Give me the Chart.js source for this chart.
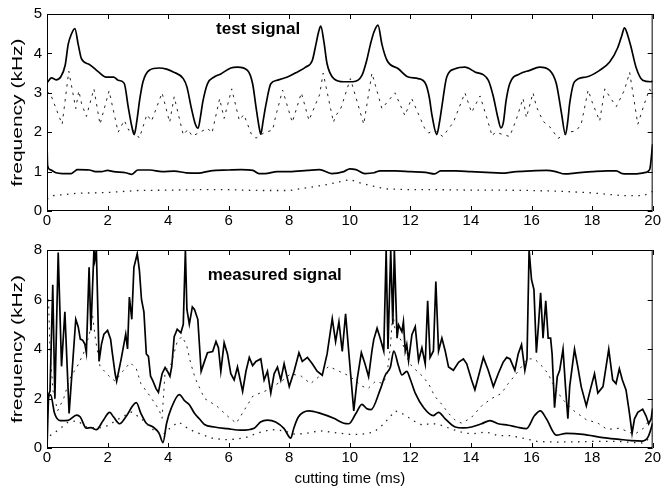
<!DOCTYPE html>
<html>
<head>
<meta charset="utf-8">
<script src="https://cdn.jsdelivr.net/npm/chart.js@4.4.1/dist/chart.umd.min.js"></script>
<style>
  html, body { margin: 0; padding: 0; background: #fff; }
  #wrap { position: relative; width: 662px; height: 493px; }
  canvas { position: absolute; left: 0; }
  #top { top: 0; }
  #bottom { top: 236px; }
</style>
</head>
<body>
<div id="wrap">
  <canvas id="top" width="662" height="236"></canvas>
  <canvas id="bottom" width="662" height="257"></canvas>
</div>
<script>
// tick values
const timeTicks = [0, 2, 4, 6, 8, 10, 12, 14, 16, 18, 20];
const testFreqTicks = [0, 1, 2, 3, 4, 5];
const measFreqTicks = [0, 2, 4, 6, 8];

// test signal, [time ms, frequency kHz]
const testUpper = [[0,3.25],[0.15,3.38],[0.3,3.33],[0.45,3.4],[0.6,3.7],[0.7,4.23],[0.8,4.48],[0.92,4.63],[1.03,4.23],[1.14,3.86],[1.4,3.72],[1.7,3.53],[1.95,3.4],[2.2,3.4],[2.35,3.32],[2.55,3.24],[2.68,2.65],[2.8,2.15],[2.88,1.94],[2.97,2.3],[3.06,2.82],[3.17,3.28],[3.39,3.58],[3.7,3.63],[3.95,3.6],[4.17,3.53],[4.5,3.36],[4.62,3.15],[4.77,2.6],[4.9,2.2],[4.99,2.1],[5.07,2.4],[5.14,2.75],[5.3,3.23],[5.52,3.4],[5.74,3.48],[6.07,3.63],[6.29,3.65],[6.62,3.57],[6.79,3.23],[6.9,2.65],[7.0,2.15],[7.06,1.95],[7.14,2.3],[7.23,2.7],[7.39,3.23],[7.61,3.32],[7.94,3.4],[8.27,3.53],[8.54,3.65],[8.76,3.82],[8.87,4.19],[8.97,4.55],[9.04,4.69],[9.14,4.32],[9.25,3.73],[9.47,3.36],[9.8,3.28],[10.1,3.28],[10.4,3.44],[10.55,3.8],[10.68,4.23],[10.8,4.55],[10.93,4.72],[11.06,4.23],[11.23,3.82],[11.6,3.61],[11.93,3.4],[12.26,3.36],[12.5,3.23],[12.62,2.9],[12.72,2.4],[12.87,1.94],[12.96,2.25],[13.04,2.65],[13.2,3.4],[13.48,3.61],[13.8,3.65],[14.13,3.53],[14.57,3.32],[14.74,2.9],[14.88,2.4],[14.99,2.11],[15.07,2.25],[15.16,2.8],[15.28,3.23],[15.61,3.48],[15.94,3.57],[16.27,3.65],[16.6,3.57],[16.82,3.23],[16.99,2.48],[17.12,1.94],[17.2,2.3],[17.26,2.73],[17.42,3.28],[17.81,3.4],[18.25,3.57],[18.58,3.78],[18.85,4.15],[18.98,4.45],[19.07,4.65],[19.18,4.45],[19.29,4.15],[19.45,3.65],[19.67,3.32],[19.94,3.28],[20,3.3]];
const testUpperDotted = [[0,3.05],[0.15,2.9],[0.5,2.2],[0.72,3.55],[0.95,2.6],[1.05,3.05],[1.15,2.7],[1.3,2.4],[1.55,3.1],[1.75,2.2],[2.05,3.05],[2.35,2.0],[2.55,2.3],[2.7,2.05],[2.8,2.1],[3.05,1.85],[3.3,2.45],[3.45,2.28],[3.8,3.0],[4.05,2.25],[4.2,2.9],[4.5,1.93],[4.65,2.07],[4.8,1.9],[5.05,2.0],[5.3,2.1],[5.45,1.98],[5.7,2.85],[5.85,2.35],[6.1,3.1],[6.35,2.3],[6.5,2.45],[6.75,1.95],[6.9,1.85],[7.2,2.0],[7.45,2.05],[7.55,2.4],[7.78,3.07],[8.1,2.25],[8.4,3.0],[8.65,2.3],[9.0,2.95],[9.12,3.5],[9.46,2.25],[9.52,2.4],[9.7,2.6],[10.02,3.36],[10.46,2.2],[10.73,3.5],[11.06,2.6],[11.49,3.0],[11.82,2.42],[12.04,2.86],[12.47,2.1],[12.6,1.98],[12.8,2.05],[13.07,1.89],[13.42,2.25],[13.8,3.0],[14.02,2.5],[14.3,2.92],[14.55,2.3],[14.7,1.9],[14.8,2.0],[15.28,1.89],[15.5,2.33],[15.72,2.86],[15.83,2.37],[16.05,3.0],[16.16,2.65],[16.38,2.28],[16.65,2.1],[16.87,1.84],[17.0,1.9],[17.2,2.0],[17.47,2.03],[17.64,2.2],[17.87,3.07],[18.0,2.77],[18.25,2.28],[18.42,3.1],[18.58,2.9],[18.8,2.65],[19.07,3.07],[19.24,3.52],[19.51,2.2],[19.73,2.73],[19.9,3.1],[20,2.9]];
const testLower = [[0,1.7],[0.02,1.15],[0.1,1.05],[0.3,0.97],[0.5,0.95],[0.8,0.95],[0.9,1.0],[1.0,1.05],[1.4,1.04],[1.6,1.0],[1.8,1.0],[2.0,1.03],[2.2,1.0],[2.6,0.97],[2.8,0.93],[3.0,1.04],[3.4,1.04],[3.8,1.0],[4.2,1.01],[4.6,0.97],[5.0,0.96],[5.4,1.02],[6.0,1.04],[6.4,1.05],[6.8,1.03],[7.0,0.95],[7.2,0.95],[7.6,1.0],[8.0,1.0],[8.6,1.03],[9.0,1.05],[9.4,0.95],[9.8,1.0],[10.0,1.07],[10.2,1.05],[10.5,0.95],[10.8,0.97],[11.0,1.02],[11.5,1.02],[12.0,1.0],[12.5,0.98],[12.8,0.94],[13.0,1.02],[13.5,1.02],[14.0,1.0],[14.5,0.98],[15.0,0.96],[15.5,1.0],[16.0,1.02],[16.5,1.03],[16.8,1.0],[17.1,0.94],[17.5,0.97],[18.0,1.0],[18.5,1.02],[18.8,1.02],[19.0,0.95],[19.4,0.94],[19.7,0.97],[19.9,1.05],[20,1.7]];
const testLowerDotted = [[0,0.3],[0.2,0.39],[1,0.45],[2,0.47],[3,0.52],[4,0.53],[5,0.54],[6,0.54],[7,0.52],[8,0.52],[9,0.64],[9.3,0.68],[10,0.8],[10.3,0.72],[10.7,0.64],[11.2,0.56],[12,0.54],[13,0.54],[14,0.53],[15,0.53],[16,0.52],[17,0.5],[18,0.46],[19,0.39],[19.7,0.39],[20,0.5]];

// measured signal, [time ms, frequency kHz]
const measUpper = [[0,2.0],[0.1,2.3],[0.19,6.6],[0.26,2.0],[0.37,7.9],[0.48,3.3],[0.59,5.5],[0.73,1.4],[0.95,5.2],[1.03,4.9],[1.1,4.4],[1.18,4.35],[1.25,4.2],[1.3,3.85],[1.39,7.3],[1.45,4.75],[1.55,8.0],[1.58,7.6],[1.63,8.0],[1.72,3.5],[1.8,4.2],[1.88,4.6],[2.0,4.75],[2.1,4.4],[2.15,3.9],[2.25,3.0],[2.3,2.7],[2.45,3.6],[2.6,4.6],[2.66,4.0],[2.72,6.1],[2.8,5.2],[2.87,7.3],[2.98,7.85],[3.05,7.2],[3.12,6.0],[3.2,5.5],[3.28,3.8],[3.35,3.7],[3.42,2.9],[3.5,2.7],[3.6,2.4],[3.68,2.25],[3.8,3.0],[3.9,3.25],[4.0,3.05],[4.06,2.9],[4.12,3.3],[4.2,4.5],[4.3,4.8],[4.42,4.65],[4.5,5.0],[4.57,8.0],[4.62,5.6],[4.7,5.0],[4.8,5.7],[4.87,5.6],[4.98,5.2],[5.09,3.1],[5.2,3.5],[5.3,3.85],[5.47,3.9],[5.58,4.3],[5.66,4.05],[5.74,3.1],[5.85,4.25],[5.96,3.8],[6.07,3.0],[6.18,2.75],[6.29,3.27],[6.46,2.29],[6.57,3.1],[6.68,3.66],[6.79,3.33],[6.9,3.5],[7.06,3.6],[7.17,2.75],[7.28,3.1],[7.39,2.22],[7.5,3.0],[7.61,3.27],[7.72,2.75],[7.83,3.4],[8.0,2.48],[8.16,3.1],[8.32,3.85],[8.43,3.5],[8.6,3.66],[8.76,3.4],[8.92,3.1],[9.09,2.94],[9.25,3.8],[9.42,5.23],[9.53,4.3],[9.64,5.1],[9.75,3.9],[9.86,5.42],[9.97,3.8],[10.13,1.5],[10.24,2.75],[10.38,3.85],[10.5,3.4],[10.62,2.88],[10.73,3.92],[10.79,4.38],[10.9,4.84],[11.0,4.44],[11.12,3.92],[11.2,8.0],[11.26,4.0],[11.35,8.0],[11.42,5.0],[11.47,8.0],[11.56,4.44],[11.61,4.97],[11.72,4.7],[11.77,5.1],[11.83,3.92],[11.88,4.18],[11.94,3.53],[12.05,4.58],[12.16,4.9],[12.27,3.53],[12.38,4.05],[12.49,3.4],[12.57,5.95],[12.65,3.66],[12.76,3.92],[12.84,6.73],[12.93,3.92],[13.04,4.44],[13.15,3.92],[13.26,3.27],[13.42,3.14],[13.59,3.46],[13.75,3.6],[13.86,3.4],[14.02,2.75],[14.13,2.35],[14.3,3.14],[14.41,3.66],[14.57,3.14],[14.74,2.48],[14.9,3.0],[15.06,3.46],[15.18,3.66],[15.29,3.6],[15.45,3.14],[15.56,3.8],[15.67,4.18],[15.78,3.14],[15.85,3.6],[15.92,8.0],[16.0,6.8],[16.08,6.4],[16.16,3.85],[16.23,4.97],[16.3,6.27],[16.38,4.44],[16.47,5.95],[16.55,4.44],[16.63,4.44],[16.68,3.8],[16.76,1.63],[16.85,2.88],[16.93,3.14],[17.04,3.99],[17.12,2.5],[17.2,1.18],[17.26,2.48],[17.37,3.53],[17.42,3.99],[17.53,3.27],[17.64,2.48],[17.81,1.7],[17.94,2.35],[18.08,3.0],[18.19,2.22],[18.36,2.48],[18.55,3.99],[18.68,2.75],[18.79,2.6],[18.9,3.2],[19.0,2.75],[19.12,2.35],[19.23,1.44],[19.32,0.59],[19.4,1.18],[19.51,1.44],[19.67,1.57],[19.78,1.3],[19.87,0.98],[19.95,1.18],[20,1.6]];
const measUpperDotted = [[0.05,6.0],[0.1,3.9],[0.2,2.3],[0.35,1.5],[0.55,2.0],[0.75,2.8],[1.0,3.3],[1.2,3.8],[1.4,4.6],[1.5,5.4],[1.6,4.4],[1.75,3.3],[2.05,2.9],[2.25,2.7],[2.5,3.1],[2.75,3.45],[2.95,3.2],[3.1,2.6],[3.4,2.1],[3.7,1.55],[3.8,1.2],[3.9,3.1],[4.1,3.4],[4.3,4.3],[4.45,4.5],[4.6,4.2],[4.75,3.4],[4.9,2.8],[5.2,2.0],[5.6,1.7],[5.95,1.3],[6.25,1.0],[6.8,2.1],[7.3,2.35],[7.8,2.75],[8.05,3.0],[8.4,2.9],[8.7,2.6],[9.0,2.9],[9.3,3.3],[9.65,3.1],[10.0,2.9],[10.4,2.5],[10.6,2.4],[10.85,2.7],[11.1,2.6],[11.23,3.0],[11.34,4.1],[11.42,5.5],[11.5,4.7],[11.72,4.3],[11.94,3.5],[12.05,3.3],[12.4,2.9],[12.6,2.6],[12.8,2.1],[13.04,1.76],[13.26,1.4],[13.5,1.1],[13.7,1.0],[14.02,1.24],[14.35,1.7],[14.68,2.0],[15.0,2.2],[15.23,2.6],[15.56,3.1],[15.85,3.6],[16.1,3.6],[16.35,3.3],[16.55,3.0],[16.7,2.6],[17.0,2.0],[17.4,1.5],[17.8,1.15],[18.2,1.0],[18.5,0.75],[18.9,0.8],[19.4,0.55],[19.7,0.8],[20,1.3]];
const measLower = [[0,0.0],[0.06,2.1],[0.12,2.15],[0.25,1.4],[0.43,1.11],[0.7,1.12],[0.98,1.33],[1.1,1.25],[1.3,0.8],[1.45,0.82],[1.63,0.74],[1.85,1.1],[2.07,1.44],[2.2,1.25],[2.4,0.98],[2.6,1.25],[2.95,1.83],[3.1,1.4],[3.28,1.0],[3.5,0.85],[3.7,0.6],[3.83,0.22],[3.95,1.0],[4.1,1.6],[4.37,2.16],[4.55,1.9],[4.7,1.75],[4.87,1.4],[5.03,1.18],[5.2,0.95],[5.53,0.85],[5.96,0.78],[6.4,0.72],[6.84,0.8],[7.05,1.05],[7.28,1.13],[7.55,1.05],[7.83,0.78],[8.05,0.4],[8.15,0.8],[8.3,1.25],[8.65,1.5],[9.03,1.4],[9.47,1.2],[9.8,1.0],[9.97,0.98],[10.19,1.37],[10.4,1.76],[10.55,1.6],[10.7,1.55],[11.0,2.35],[11.17,2.94],[11.34,3.27],[11.45,3.92],[11.61,3.3],[11.72,2.95],[11.88,3.1],[11.99,2.8],[12.16,2.22],[12.44,1.63],[12.76,1.31],[12.93,1.44],[13.15,1.18],[13.48,0.85],[13.75,0.81],[14.02,0.85],[14.35,0.98],[14.63,1.11],[14.9,0.98],[15.23,0.92],[15.5,0.85],[15.83,0.78],[16.1,1.31],[16.29,1.5],[16.49,1.18],[16.82,0.52],[17.15,0.59],[17.7,0.55],[18.36,0.42],[18.9,0.35],[19.3,0.3],[19.65,0.28],[19.85,0.45],[20,1.0]];
const measLowerDotted = [[0.1,0.5],[0.4,0.75],[0.7,1.05],[1.0,1.1],[1.3,0.85],[1.7,0.8],[2.0,0.9],[2.4,1.2],[2.8,1.45],[3.1,1.2],[3.5,0.75],[3.8,0.5],[4.1,0.85],[4.35,1.05],[4.7,0.75],[5.1,0.55],[5.5,0.38],[6.0,0.33],[6.5,0.4],[7.0,0.62],[7.4,0.75],[7.8,0.7],[8.2,0.55],[8.6,0.6],[9.0,0.7],[9.5,0.62],[10.0,0.55],[10.4,0.55],[10.8,0.65],[11.1,0.95],[11.5,1.5],[11.8,1.35],[12.1,1.1],[12.4,0.92],[12.7,1.0],[13.0,0.92],[13.4,0.75],[13.8,0.6],[14.1,0.58],[14.5,0.65],[14.9,0.5],[15.3,0.5],[15.7,0.4],[16.2,0.26],[16.8,0.24],[17.5,0.25],[18.2,0.27],[18.8,0.27],[19.4,0.22],[19.7,0.2],[20,0.5]];

const FONT = '"Liberation Sans", Arial, Helvetica, sans-serif';
Chart.defaults.font.family = FONT;
Chart.defaults.color = '#000';

const toXY = arr => arr.map(p => ({ x: p[0], y: p[1] }));

const solid = (data, smooth) => ({
  data: toXY(data), borderColor: '#000', borderWidth: 1.7,
  pointRadius: 0, fill: false,
  cubicInterpolationMode: smooth ? 'monotone' : 'default', tension: 0
});
const dotted = (data, dash, width) => ({
  data: toXY(data), borderColor: '#222', borderWidth: width,
  borderDash: dash, pointRadius: 0, tension: 0, fill: false
});

// frame, inward ticks on all sides, panel label and rotated y title
const framePlugin = {
  id: 'frame',
  afterDraw(chart, args, opts) {
    const { ctx, chartArea: a, scales } = chart;
    const xs = scales.x, ys = scales.y;
    ctx.save();
    ctx.strokeStyle = '#000';
    ctx.lineWidth = 1;
    ctx.strokeRect(a.left + 0.5, a.top + 0.5, a.right - a.left - 1, a.bottom - a.top - 1);
    ctx.beginPath();
    xs.ticks.forEach(t => {
      const px = Math.round(xs.getPixelForValue(t.value)) + 0.5;
      ctx.moveTo(px, a.top); ctx.lineTo(px, a.top + 5);
      ctx.moveTo(px, a.bottom); ctx.lineTo(px, a.bottom - 5);
    });
    ys.ticks.forEach(t => {
      const py = Math.round(ys.getPixelForValue(t.value)) + 0.5;
      ctx.moveTo(a.left, py); ctx.lineTo(a.left + 5, py);
      ctx.moveTo(a.right, py); ctx.lineTo(a.right - 5, py);
    });
    ctx.stroke();

    ctx.fillStyle = '#000';
    ctx.font = 'bold 17px ' + FONT;
    ctx.textAlign = 'center';
    ctx.textBaseline = 'alphabetic';
    ctx.fillText(opts.label, xs.getPixelForValue(opts.labelAt[0]), ys.getPixelForValue(opts.labelAt[1]));

    ctx.translate(18, (a.top + a.bottom) / 2);
    ctx.rotate(-Math.PI / 2);
    ctx.scale(1.4, 1);
    ctx.font = '15px ' + FONT;
    ctx.textBaseline = 'middle';
    ctx.fillText('frequency (kHz)', 0, 0);
    ctx.restore();
  }
};

function makeChart(id, datasets, yMax, yTicks, xHeight, padTop, label, labelAt, xTitle) {
  return new Chart(document.getElementById(id), {
    type: 'line',
    data: { datasets },
    plugins: [framePlugin],
    options: {
      responsive: false,
      animation: false,
      events: [],
      layout: { autoPadding: false, padding: { left: 0, right: 7, top: padTop, bottom: 0 } },
      plugins: {
        legend: { display: false },
        tooltip: { enabled: false },
        frame: { label, labelAt }
      },
      scales: {
        x: {
          type: 'linear', min: 0, max: 20,
          afterBuildTicks: s => { s.ticks = timeTicks.map(v => ({ value: v })); },
          afterFit: s => { s.height = xHeight; },
          grid: { display: false, drawTicks: false },
          border: { display: false },
          ticks: { font: { size: 15 }, padding: 1, maxRotation: 0 },
          title: { display: !!xTitle, text: xTitle, font: { size: 15 }, padding: { top: 0, bottom: 5 } }
        },
        y: {
          type: 'linear', min: 0, max: yMax,
          afterBuildTicks: s => { s.ticks = yTicks.map(v => ({ value: v })); },
          afterFit: s => { s.width = 47; },
          grid: { display: false, drawTicks: false },
          border: { display: false },
          ticks: { font: { size: 15 }, padding: 5 }
        }
      }
    }
  });
}

makeChart('top', [
  dotted(testUpperDotted, [2.5, 5], 1),
  dotted(testLowerDotted, [1.5, 5.5], 1.3),
  solid(testUpper, true),
  solid(testLower, true)
], 5, testFreqTicks, 25, 11, 'test signal', [6.97, 4.48], '');

makeChart('bottom', [
  dotted(measUpperDotted, [2, 5], 1),
  dotted(measLowerDotted, [1.5, 5.5], 1.3),
  solid(measUpper, false),
  solid(measLower, true)
], 8, measFreqTicks, 45, 8, 'measured signal', [7.52, 6.78], 'cutting time (ms)');
</script>
</body>
</html>
